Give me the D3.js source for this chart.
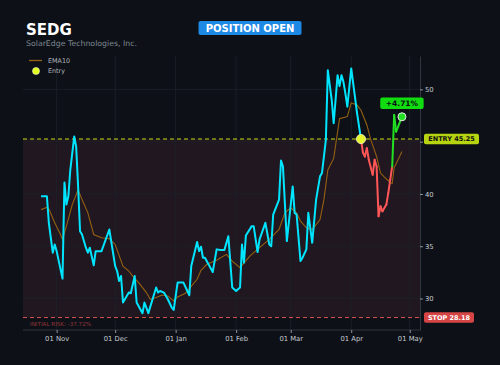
<!DOCTYPE html>
<html>
<head>
<meta charset="utf-8">
<script src="https://cdn.jsdelivr.net/npm/d3@7"></script>
<style>
  html, body { margin: 0; padding: 0; background: #0d1117; }
  svg { display: block; font-family: "DejaVu Sans", sans-serif; }
</style>
</head>
<body>
<div id="chart"></div>
<script>
// chart header
const ticker = "SEDG";
const company = "SolarEdge Technologies, Inc.";
const status = "POSITION OPEN";

// trade levels
const entryDate = "2025-04-06";
const entryPrice = 45.25;
const stopPrice = 28.18;

// close prices
const priceDates = [
  "2024-10-24","2024-10-27","2024-10-28","2024-10-30","2024-10-31","2024-11-01","2024-11-04","2024-11-05",
  "2024-11-06","2024-11-07","2024-11-08","2024-11-10","2024-11-11","2024-11-12","2024-11-13","2024-11-14",
  "2024-11-16","2024-11-17","2024-11-18","2024-11-20","2024-11-21","2024-11-24","2024-11-28","2024-12-01",
  "2024-12-02","2024-12-03","2024-12-04","2024-12-05","2024-12-08","2024-12-09","2024-12-11","2024-12-12",
  "2024-12-15","2024-12-16","2024-12-18","2024-12-22","2024-12-23","2024-12-24","2024-12-26","2024-12-28",
  "2024-12-30","2024-12-31","2025-01-02","2025-01-05","2025-01-08","2025-01-09","2025-01-12","2025-01-13",
  "2025-01-14","2025-01-15","2025-01-16","2025-01-20","2025-01-22","2025-01-24","2025-01-26","2025-01-28",
  "2025-01-30","2025-02-01","2025-02-03","2025-02-04","2025-02-05","2025-02-06","2025-02-09","2025-02-10",
  "2025-02-12","2025-02-13","2025-02-16","2025-02-18","2025-02-19","2025-02-20","2025-02-23","2025-02-24",
  "2025-02-25","2025-02-27","2025-03-02","2025-03-03","2025-03-04","2025-03-06","2025-03-07","2025-03-09",
  "2025-03-10","2025-03-12","2025-03-14","2025-03-16","2025-03-17","2025-03-19","2025-03-20","2025-03-22",
  "2025-03-23","2025-03-25","2025-03-26","2025-03-27","2025-03-28","2025-03-29","2025-03-30","2025-04-01",
  "2025-04-03","2025-04-04","2025-04-06","2025-04-07","2025-04-08","2025-04-09","2025-04-10","2025-04-12",
  "2025-04-13","2025-04-14","2025-04-15","2025-04-16","2025-04-17","2025-04-19","2025-04-20","2025-04-21",
  "2025-04-22","2025-04-23","2025-04-24","2025-04-27"
];
const priceValues = [
  39.77,39.77,37.24,34.38,35.17,34.53,31.90,41.10,
  38.98,39.77,42.31,45.49,44.53,40.72,36.44,36.12,
  34.86,34.38,34.86,33.17,34.53,34.53,36.60,33.10,
  32.63,31.68,32.15,29.62,30.57,30.50,32.15,29.62,
  28.60,29.62,28.60,31.05,30.57,30.72,30.57,29.93,
  29.14,28.91,31.52,31.52,30.31,33.10,35.40,34.53,
  34.95,33.90,33.90,32.53,34.70,34.63,34.65,35.96,
  31.05,30.72,31.05,35.17,33.43,36.03,36.92,36.92,
  34.44,35.65,37.24,35.17,35.00,38.03,39.46,43.20,
  42.63,35.49,40.72,38.19,38.03,33.58,33.90,34.70,
  38.19,35.33,39.46,41.68,42.00,45.17,51.84,48.98,
  46.76,51.36,50.31,51.36,50.72,49.62,48.34,52.00,
  49.14,47.71,45.25,43.96,43.58,44.38,43.27,41.84,
  43.27,42.63,37.87,38.82,38.34,38.98,40.10,41.36,
  42.63,47.55,45.96,47.38
];

// EMA10
const emaDates = [
  "2024-10-24","2024-10-27","2024-10-28","2024-10-31","2024-11-03","2024-11-04","2024-11-06","2024-11-09",
  "2024-11-12","2024-11-14","2024-11-17","2024-11-20","2024-11-24","2024-11-28","2024-12-01","2024-12-05",
  "2024-12-08","2024-12-10","2024-12-13","2024-12-17","2024-12-19","2024-12-22","2024-12-25","2024-12-28",
  "2024-12-31","2025-01-02","2025-01-06","2025-01-12","2025-01-14","2025-01-17","2025-01-22","2025-01-27",
  "2025-01-30","2025-02-03","2025-02-08","2025-02-13","2025-02-18","2025-02-23","2025-02-26","2025-03-01",
  "2025-03-04","2025-03-06","2025-03-09","2025-03-12","2025-03-16","2025-03-18","2025-03-20","2025-03-23",
  "2025-03-26","2025-03-30","2025-04-01","2025-04-04","2025-04-06","2025-04-09","2025-04-11","2025-04-14",
  "2025-04-16","2025-04-18","2025-04-21","2025-04-22","2025-04-23","2025-04-27"
];
const emaValues = [
  38.50,38.72,38.57,37.24,36.12,35.65,36.92,38.98,
  40.40,39.46,38.19,36.12,35.81,35.71,35.17,33.10,
  32.63,32.15,31.52,30.57,29.93,30.09,30.34,30.25,
  29.77,30.15,30.50,31.84,32.70,33.27,33.65,34.22,
  33.58,32.95,34.06,34.86,35.65,36.60,38.19,38.67,
  38.19,37.39,36.76,36.60,37.55,39.46,42.30,43.40,
  47.20,47.40,48.70,48.50,48.00,46.60,45.20,43.60,
  42.00,41.60,41.10,41.00,42.50,44.06
];

const width = 500, height = 365;
const plotL = 23, plotR = 420, plotT = 56, plotB = 330;
const parse = d3.timeParse("%Y-%m-%d");

const prices = priceDates.map((d, i) => ({date: parse(d), v: priceValues[i]}));
const ema = emaDates.map((d, i) => ({date: parse(d), v: emaValues[i]}));
const entryD = parse(entryDate);
const last = prices[prices.length - 1];

const svg = d3.select("#chart").append("svg")
    .attr("width", width)
    .attr("height", height);

svg.append("rect").attr("width", width).attr("height", height).attr("fill", "#0d1117");

// scales, padded 5% each side
const t0 = prices[0].date, t1 = last.date;
const tpad = (t1 - t0) * 0.05;
const x = d3.scaleTime()
    .domain([new Date(+t0 - tpad), new Date(+t1 + tpad)])
    .range([plotL, plotR]);

const vmax = d3.max(priceValues);
const vpad = (vmax - stopPrice) * 0.05;
const y = d3.scaleLinear()
    .domain([stopPrice - vpad, vmax + vpad])
    .range([plotB, plotT]);

// risk zone
svg.append("rect")
    .attr("x", plotL).attr("width", plotR - plotL)
    .attr("y", y(entryPrice)).attr("height", y(stopPrice) - y(entryPrice))
    .attr("fill", "#201720");

// grid
const xticks = x.ticks(d3.timeMonth.every(1));
const yticks = y.ticks(5);
svg.append("g").selectAll("line").data(xticks).join("line")
    .attr("x1", d => x(d)).attr("x2", d => x(d))
    .attr("y1", plotT).attr("y2", plotB)
    .attr("stroke", "#1d222b").attr("stroke-width", 0.8);
svg.append("g").selectAll("line").data(yticks).join("line")
    .attr("x1", plotL).attr("x2", plotR)
    .attr("y1", d => y(d)).attr("y2", d => y(d))
    .attr("stroke", "#1d222b").attr("stroke-width", 0.8);

// axes
const xAxis = svg.append("g")
    .attr("transform", `translate(0,${plotB})`)
    .call(d3.axisBottom(x).tickValues(xticks).tickFormat(d3.timeFormat("%d %b"))
      .tickSize(3).tickSizeOuter(0).tickPadding(3));
const yAxis = svg.append("g")
    .attr("transform", `translate(${plotR},0)`)
    .call(d3.axisRight(y).tickValues(yticks).tickSize(3).tickSizeOuter(0).tickPadding(2));
[xAxis, yAxis].forEach(g => {
  g.select(".domain").attr("stroke", "#30363d");
  g.selectAll(".tick line").attr("stroke", "#8b949e");
  g.selectAll("text").attr("fill", "#c6cbd2").style("font-size", "6.8px").style("font-family", "DejaVu Sans");
});
xAxis.select(".domain").attr("d", `M${plotL},0H${plotR}`);
// the tick label under the entry tag is hidden by it
yAxis.selectAll(".tick").filter(d => Math.abs(y(d) - y(entryPrice)) < 7).select("text").remove();

// stop & entry lines
svg.append("line")
    .attr("x1", plotL).attr("x2", plotR)
    .attr("y1", y(stopPrice)).attr("y2", y(stopPrice))
    .attr("stroke", "#d9534f").attr("stroke-width", 1).attr("stroke-dasharray", "4,3");
svg.append("line")
    .attr("x1", plotL).attr("x2", plotR)
    .attr("y1", y(entryPrice)).attr("y2", y(entryPrice))
    .attr("stroke", "#c8dc10").attr("stroke-width", 1.1).attr("stroke-dasharray", "4,3");

// EMA
const line = d3.line().x(d => x(d.date)).y(d => y(d.v));
svg.append("path").datum(ema)
    .attr("d", line)
    .attr("fill", "none").attr("stroke", "#946012").attr("stroke-width", 1.1);

// price up to entry
const entryIdx = prices.findIndex(d => +d.date === +entryD);
svg.append("path").datum(prices.slice(0, entryIdx + 1))
    .attr("d", line)
    .attr("fill", "none").attr("stroke", "#00e5ff").attr("stroke-width", 2)
    .attr("stroke-linejoin", "round");

// price after entry, coloured by segment end vs entry
const segs = d3.pairs(prices.slice(entryIdx));
svg.append("g").selectAll("path").data(segs).join("path")
    .attr("d", d => line(d))
    .attr("fill", "none")
    .attr("stroke", d => d[1].v >= entryPrice ? "#22e022" : "#ff5757")
    .attr("stroke-width", 2).attr("stroke-linecap", "round");

// entry marker
svg.append("circle")
    .attr("cx", x(entryD)).attr("cy", y(entryPrice)).attr("r", 4.6)
    .attr("fill", "#e6f52c").attr("stroke", "#f4f4d0").attr("stroke-width", 0.8);

// last marker and P&L label
const pnl = (last.v / entryPrice - 1) * 100;
svg.append("circle")
    .attr("cx", x(last.date)).attr("cy", y(last.v)).attr("r", 4)
    .attr("fill", "#22e022").attr("stroke", "#e8e8e8").attr("stroke-width", 1);
svg.append("rect")
    .attr("x", x(last.date) - 21.7).attr("y", y(last.v) - 19.3)
    .attr("width", 43.4).attr("height", 11.6).attr("rx", 2)
    .attr("fill", "#10dc10");
svg.append("text")
    .attr("x", x(last.date)).attr("y", y(last.v) - 10.8)
    .attr("text-anchor", "middle")
    .attr("fill", "#0d1117").style("font-size", "7.5px").style("font-weight", "bold")
    .text((pnl >= 0 ? "+" : "") + pnl.toFixed(2) + "%");

// right side labels
function tag(v, label, bg, fg, w) {
  svg.append("rect")
      .attr("x", plotR + 4).attr("y", y(v) - 5.2)
      .attr("width", w).attr("height", 10.5).attr("rx", 2)
      .attr("fill", bg);
  svg.append("text")
      .attr("x", plotR + 4 + w / 2).attr("y", y(v) + 2.4)
      .attr("text-anchor", "middle")
      .attr("fill", fg).style("font-size", "6.5px").style("font-weight", "bold")
      .text(label);
}
tag(entryPrice, "ENTRY " + entryPrice.toFixed(2), "#b6d40f", "#111", 55);
tag(stopPrice, "STOP " + stopPrice.toFixed(2), "#d64545", "#fff", 50);

// initial risk note
const risk = (stopPrice / entryPrice - 1) * 100;
svg.append("text")
    .attr("x", 30).attr("y", y(stopPrice) + 8)
    .attr("fill", "#94363a").style("font-size", "5.6px")
    .text("INITIAL RISK: " + risk.toFixed(2) + "%");

// header
svg.append("text").attr("x", 26).attr("y", 35)
    .attr("fill", "#ffffff").style("font-size", "15px").style("font-weight", "bold")
    .text(ticker);
svg.append("text").attr("x", 26).attr("y", 45.5)
    .attr("fill", "#7d8590").style("font-size", "7.8px")
    .text(company);

svg.append("rect")
    .attr("x", 198.5).attr("y", 21).attr("width", 103).attr("height", 14).attr("rx", 2)
    .attr("fill", "#1e88e5");
svg.append("text").attr("x", 250).attr("y", 31.8)
    .attr("text-anchor", "middle")
    .attr("fill", "#ffffff").style("font-size", "10px").style("font-weight", "bold")
    .text(status);

// legend
svg.append("line").attr("x1", 29).attr("x2", 42).attr("y1", 60.5).attr("y2", 60.5)
    .attr("stroke", "#946012").attr("stroke-width", 1.3);
svg.append("text").attr("x", 48).attr("y", 62.7)
    .attr("fill", "#b0b5bc").style("font-size", "6.4px").text("EMA10");
svg.append("circle").attr("cx", 36).attr("cy", 71).attr("r", 3.5)
    .attr("fill", "#e0ff1a").attr("stroke", "#f4f4d0").attr("stroke-width", 0.6);
svg.append("text").attr("x", 48).attr("y", 73.2)
    .attr("fill", "#b0b5bc").style("font-size", "6.4px").text("Entry");
</script>
</body>
</html>
